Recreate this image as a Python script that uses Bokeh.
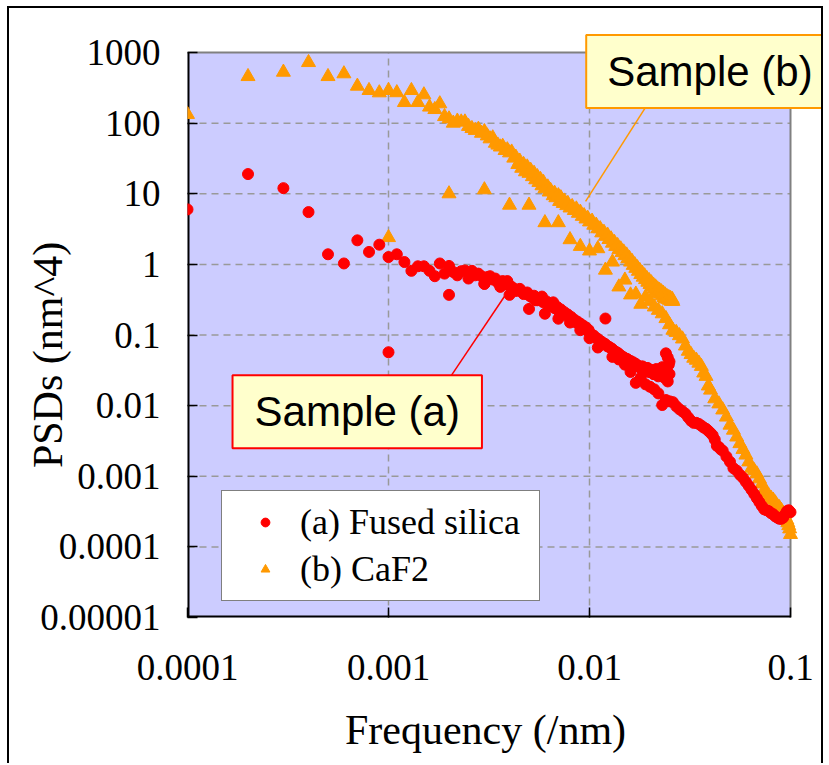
from bokeh.plotting import figure
from bokeh.models import (Range1d, FixedTicker, Label, Legend, LegendItem,
                          CustomJSTickFormatter, ColumnDataSource)
from bokeh.embed import file_html
from bokeh.resources import INLINE

# ---------------- data ----------------
# (a) Fused silica
fs_coarse_x = [0.0001, 0.0002, 0.0003, 0.0004, 0.0005, 0.0006, 0.0007, 0.0008, 0.0009, 0.001]
fs_coarse_y = [6.0, 19, 12, 5.5, 1.39, 1.03, 2.19, 1.5, 1.9, 1.27]

fs_fine_x = [0.0011, 0.0012, 0.0013, 0.0014, 0.0015, 0.0016, 0.0017, 0.0018, 0.0019, 0.0020,
             0.0021, 0.0022, 0.0023, 0.0024, 0.0025, 0.0026, 0.0027, 0.0028, 0.0029, 0.0030,
             0.0031, 0.0032, 0.0033, 0.0034, 0.0035, 0.0036, 0.0037, 0.0038, 0.0039, 0.0040,
             0.0041, 0.0042, 0.0043, 0.0044, 0.0045, 0.0046, 0.0047, 0.0048, 0.0049, 0.0050,
             0.0051, 0.0052, 0.0053, 0.0054, 0.0055, 0.0056, 0.0057, 0.0058, 0.0059, 0.0060,
             0.0061, 0.0062, 0.0063, 0.0064, 0.0065, 0.0066, 0.0067, 0.0068, 0.0069, 0.0070,
             0.0071, 0.0072, 0.0074, 0.0075, 0.0077, 0.0078, 0.0080, 0.0081, 0.0083, 0.0084,
             0.0086, 0.0087, 0.0089, 0.0090, 0.0092, 0.0093, 0.0095, 0.0096, 0.0098, 0.0099,
             0.0100, 0.0103, 0.0105, 0.0108, 0.0110, 0.0113,
             0.0115, 0.0118, 0.0120, 0.0123, 0.0125, 0.0128, 0.0130, 0.0133, 0.0135, 0.0138,
             0.0140, 0.0143, 0.0145, 0.0148, 0.0150, 0.0153, 0.0155, 0.0158, 0.0160, 0.0163,
             0.0165, 0.0168, 0.0170, 0.0173, 0.0175, 0.0178, 0.0180, 0.0183, 0.0185, 0.0188,
             0.0190, 0.0193, 0.0195, 0.0198, 0.0200, 0.0203, 0.0205, 0.0208, 0.0210, 0.0213,
             0.0215, 0.0218, 0.0220, 0.0223, 0.0225, 0.0228, 0.0230, 0.0233, 0.0235, 0.0238,
             0.0240, 0.0243, 0.0245, 0.0248, 0.0250, 0.0240, 0.0245, 0.0250]
fs_fine_y = [1.39, 1.08, 0.81, 0.94, 0.94, 0.81, 0.68, 1.03, 0.74, 0.95,
             0.78, 0.70, 0.80, 0.82, 0.63, 0.81, 0.70, 0.74, 0.68, 0.53,
             0.66, 0.68, 0.61, 0.63, 0.55, 0.48, 0.58, 0.52, 0.58, 0.50,
             0.48, 0.455, 0.42, 0.43, 0.45, 0.41, 0.38, 0.39, 0.40, 0.366,
             0.35, 0.34, 0.36, 0.311, 0.31, 0.33, 0.32, 0.35, 0.29, 0.30,
             0.30, 0.28, 0.26, 0.27, 0.27, 0.29, 0.24, 0.25, 0.25, 0.224,
             0.21, 0.23, 0.20, 0.21, 0.19, 0.195, 0.175, 0.18, 0.16, 0.165,
             0.15, 0.155, 0.14, 0.145, 0.13, 0.136, 0.122, 0.128, 0.115, 0.118,
             0.108, 0.10, 0.098, 0.090, 0.088, 0.082,
             0.080, 0.076, 0.074, 0.069, 0.068, 0.065, 0.063, 0.059, 0.058, 0.056,
             0.054, 0.051, 0.050, 0.048, 0.047, 0.046, 0.045, 0.043, 0.043, 0.041,
             0.041, 0.039, 0.039, 0.037, 0.036, 0.035, 0.034, 0.036, 0.035, 0.032,
             0.032, 0.034, 0.034, 0.030, 0.030, 0.032, 0.031, 0.028, 0.028, 0.030,
             0.033, 0.027, 0.026, 0.029, 0.030, 0.033, 0.035, 0.027, 0.025, 0.030,
             0.034, 0.024, 0.022, 0.038, 0.042, 0.055, 0.048, 0.028]

fs_step_x = [0.001, 0.002, 0.003, 0.004, 0.005, 0.006, 0.007, 0.008, 0.009, 0.010,
             0.011, 0.012, 0.013, 0.014, 0.015, 0.016, 0.017, 0.018, 0.019, 0.020,
             0.021, 0.022, 0.023, 0.024, 0.025, 0.026, 0.027, 0.028, 0.029, 0.030,
             0.031, 0.032, 0.033, 0.034, 0.035, 0.036, 0.037, 0.038, 0.039, 0.040,
             0.041, 0.042, 0.043, 0.044, 0.045, 0.046, 0.048, 0.050, 0.052, 0.054,
             0.056, 0.058, 0.060, 0.062, 0.064, 0.066, 0.068, 0.070, 0.072, 0.074,
             0.076, 0.078, 0.080, 0.082, 0.084, 0.086, 0.088, 0.090, 0.092, 0.094,
             0.096, 0.098, 0.100]
fs_step_y = [0.057, 0.37, 0.53, 0.37, 0.234, 0.20, 0.17, 0.15, 0.117, 0.09,
             0.0665, 0.171, 0.049, 0.045, 0.038, 0.030, 0.021, 0.025, 0.020, 0.0185,
             0.017, 0.0149, 0.0102, 0.012, 0.0115, 0.0112, 0.0098, 0.0089, 0.0083, 0.0077,
             0.0068, 0.0061, 0.0057, 0.0057, 0.0055, 0.0052, 0.0049, 0.0047, 0.0044, 0.0041,
             0.0038, 0.0033, 0.0027, 0.0026, 0.0024, 0.0023, 0.0019, 0.0016, 0.0013, 0.0012,
             0.00105, 0.00095, 0.00083, 0.00073, 0.00064, 0.00056, 0.00049, 0.00043, 0.00038, 0.00034,
             0.00033, 0.00032, 0.00030, 0.00029, 0.00027, 0.00026, 0.00025, 0.00025, 0.00026, 0.00029,
             0.00032, 0.00033, 0.00031]

# (b) CaF2
ca_coarse_x = [0.0001, 0.0002, 0.0003, 0.0004, 0.0005, 0.0006, 0.0007, 0.0008, 0.0009, 0.001]
ca_coarse_y = [133, 457, 527, 722, 457, 500, 334, 290, 269, 290]

ca_fine_x = [0.0011, 0.0012, 0.0013, 0.0014, 0.0015, 0.0016, 0.0017, 0.0018, 0.0019, 0.0020,
             0.0021, 0.0022, 0.0023, 0.0024, 0.0025, 0.0026, 0.0027, 0.0028, 0.0029, 0.0030,
             0.0031, 0.0032, 0.0033, 0.0034, 0.0035, 0.0036, 0.0037, 0.0038, 0.0039, 0.0040,
             0.0041, 0.0042, 0.0043, 0.0044, 0.0045, 0.0046, 0.0047, 0.0048, 0.0049, 0.0050,
             0.0051, 0.0052, 0.0053, 0.0054, 0.0055, 0.0056, 0.0057, 0.0058, 0.0059, 0.0060,
             0.0062, 0.0063, 0.0064, 0.0066, 0.0067, 0.0068, 0.0070, 0.0071, 0.0072, 0.0074,
             0.0075, 0.0077, 0.0078, 0.0080, 0.0082, 0.0084, 0.0086, 0.0088, 0.0090, 0.0092,
             0.0094, 0.0096, 0.0098, 0.0100, 0.0103, 0.0105, 0.0108, 0.0110, 0.0113, 0.0115,
             0.0118, 0.0120, 0.0123, 0.0125, 0.0128, 0.0130, 0.0133, 0.0135, 0.0138, 0.0140,
             0.0143, 0.0145, 0.0148, 0.0150, 0.0153, 0.0155, 0.0158, 0.0160, 0.0163, 0.0165,
             0.0168, 0.0170, 0.0173, 0.0175, 0.0178, 0.0180, 0.0183, 0.0185, 0.0188, 0.0190,
             0.0193, 0.0195, 0.0198, 0.0200, 0.0203, 0.0205, 0.0208, 0.0210, 0.0213, 0.0215,
             0.0218, 0.0220, 0.0223, 0.0225, 0.0228, 0.0230, 0.0233, 0.0235, 0.0238, 0.0240,
             0.0243, 0.0245, 0.0248, 0.0250, 0.0253, 0.0255, 0.0258, 0.0260]
ca_fine_y = [270, 196, 290, 196, 252, 169, 156, 188, 124, 115,
             100, 107, 104, 104, 90, 84, 79, 82, 72, 76,
             66, 60, 62, 52, 49, 46, 47, 41, 42, 38,
             39, 32, 33, 26, 29, 23, 26, 20.5, 24, 19.5,
             21.5, 17.5, 19.5, 15.8, 17.5, 14.5, 16, 13, 14.5, 11.8,
             12.5, 10.6, 11.2, 9.4, 10.2, 8.8, 9.4, 7.8, 8.8, 7.3,
             7.9, 6.8, 7.3, 6.3, 6.6, 5.8, 6.1, 5.3, 5.5, 4.8,
             4.9, 4.4, 4.5, 4.0, 4.1, 3.6, 3.6, 3.2, 3.2, 2.8,
             2.85, 2.5, 2.6, 2.25, 2.3, 2.0, 2.05, 1.8, 1.85, 1.62,
             1.66, 1.47, 1.5, 1.33, 1.36, 1.2, 1.22, 1.08, 1.1, 0.97,
             0.99, 0.88, 0.9, 0.8, 0.82, 0.72, 0.75, 0.66, 0.69, 0.61,
             0.63, 0.56, 0.59, 0.52, 0.55, 0.48, 0.51, 0.45, 0.48, 0.42,
             0.45, 0.40, 0.43, 0.38, 0.41, 0.36, 0.39, 0.34, 0.37, 0.33,
             0.35, 0.32, 0.34, 0.31, 0.33, 0.30, 0.32, 0.30]

ca_step_x = [0.001, 0.002, 0.003, 0.004, 0.005, 0.006, 0.007, 0.008, 0.009, 0.010,
             0.011, 0.012, 0.013, 0.014, 0.015, 0.016, 0.017, 0.018, 0.019, 0.020,
             0.021, 0.022, 0.023, 0.024, 0.025, 0.026, 0.027, 0.028, 0.029, 0.030,
             0.031, 0.032, 0.033, 0.034, 0.035, 0.036, 0.037, 0.038, 0.039, 0.040,
             0.042, 0.044, 0.046, 0.048, 0.050, 0.052, 0.054, 0.056, 0.058, 0.060,
             0.062, 0.064, 0.066, 0.068, 0.070, 0.072, 0.074, 0.076, 0.078, 0.080,
             0.082, 0.084, 0.086, 0.088, 0.090, 0.092, 0.094, 0.096, 0.097, 0.098,
             0.099, 0.100]
ca_step_y = [2.4, 10, 11.4, 6.9, 6.9, 3.9, 3.9, 2.24, 1.8, 1.55,
             1.67, 0.83, 1.08, 0.48, 0.60, 0.37, 0.38, 0.273, 0.346, 0.30,
             0.25, 0.224, 0.20, 0.171, 0.14, 0.117, 0.109, 0.098, 0.088, 0.070,
             0.059, 0.053, 0.047, 0.044, 0.040, 0.036, 0.029, 0.026, 0.019, 0.0166,
             0.0125, 0.0106, 0.0087, 0.0069, 0.0053, 0.0045, 0.0036, 0.0029, 0.0024, 0.0020,
             0.0016, 0.0013, 0.0012, 0.00108, 0.00092, 0.00078, 0.00064, 0.00056, 0.00053, 0.00049,
             0.00046, 0.00042, 0.00038, 0.00036, 0.00033, 0.00030, 0.00027, 0.00024, 0.00022, 0.00020,
             0.00018, 0.00015]

# tick values (labels are the values themselves)
x_ticks = [0.0001, 0.001, 0.01, 0.1]
y_ticks = [0.00001, 0.0001, 0.001, 0.01, 0.1, 1, 10, 100, 1000]

# callouts: box anchor (left edge, vertical middle) and leader line end points
callout_b_text = "Sample (b)"
callout_b_anchor = (0.009630, 538)
callout_b_line_x = [0.0190, 0.00956]
callout_b_line_y = [167, 7.8]
callout_a_text = "Sample (a)"
callout_a_anchor = (0.0001675, 0.00822)
callout_a_line_x = [0.00206, 0.00378]
callout_a_line_y = [0.027, 0.354]

RED = "#FF0000"
ORANGE = "#FF9900"
NB = "\u00a0"

# frame extends past the plot box (right / top) so the callout box can overflow it
p = figure(width=816, height=757, x_axis_type="log", y_axis_type="log",
           x_range=Range1d(1e-4, 0.14931), y_range=Range1d(1e-5, 4198),
           output_backend="svg", toolbar_location=None,
           min_border_left=178, min_border_right=0, min_border_top=0, min_border_bottom=148)
p.margin = (6, 0, 0, 7)
p.styles = {"border-left": "2px solid black", "border-top": "2px solid black",
            "border-right": "2px solid black"}

p.background_fill_color = "white"
p.border_fill_color = "white"
p.outline_line_color = None
p.xgrid.visible = False
p.ygrid.visible = False

for ax, ticks in ((p.xaxis, x_ticks), (p.yaxis, y_ticks)):
    ax.ticker = FixedTicker(ticks=ticks, minor_ticks=[])
    ax.formatter = CustomJSTickFormatter(code="return tick.toString()")
    ax.major_tick_in = 10
    ax.major_tick_out = 0
    ax.minor_tick_in = 0
    ax.minor_tick_out = 0
    ax.axis_line_color = None
    ax.major_tick_line_color = "black"
    ax.major_tick_line_width = 1.5
    ax.major_label_text_font = "Liberation Serif"
    ax.major_label_text_font_size = "37px"
    ax.major_label_text_color = "black"
    ax.axis_label_text_font = "Liberation Serif"
    ax.axis_label_text_font_size = "42px"
    ax.axis_label_text_font_style = "normal"
    ax.axis_label_text_color = "black"

p.xaxis.axis_label = "Frequency (/nm)" + NB * 4
p.yaxis.axis_label = "PSDs (nm^4)" + NB * 8
p.xaxis.major_label_standoff = 37
p.yaxis.major_label_standoff = 27
p.xaxis.axis_label_standoff = 24
p.yaxis.axis_label_standoff = -34

x0, x1 = x_ticks[0], x_ticks[-1]
y0, y1 = y_ticks[0], y_ticks[-1]

# plot box
p.quad(left=[x0], right=[x1], bottom=[y0], top=[y1], fill_color="#CCCCFF", line_color=None)
# dashed grid
gx = x_ticks[1:-1]
p.segment(x0=gx, x1=gx, y0=[y0] * len(gx), y1=[y1] * len(gx),
          line_color="#999999", line_dash="7 5", line_width=1.5)
gy = y_ticks[1:-1]
p.segment(x0=[x0] * len(gy), x1=[x1] * len(gy), y0=gy, y1=gy,
          line_color="#999999", line_dash="7 5", line_width=1.5)
# box border: grey top/right, black left/bottom
p.line([x0, x1, x1], [y1, y1, y0], line_color="#808080", line_width=2)
p.line([x0, x0, x1], [y1, y0, y0], line_color="black", line_width=4)

fs_src = ColumnDataSource(dict(x=fs_coarse_x + fs_fine_x + fs_step_x,
                               y=fs_coarse_y + fs_fine_y + fs_step_y))
ca_src = ColumnDataSource(dict(x=ca_coarse_x + ca_fine_x + ca_step_x,
                               y=ca_coarse_y + ca_fine_y + ca_step_y))

r_ca = p.scatter("x", "y", source=ca_src, marker="triangle", size=14,
                 fill_color=ORANGE, line_color=ORANGE)
r_fs = p.scatter("x", "y", source=fs_src, marker="circle", size=11,
                 fill_color=RED, line_color=RED)

p.line(callout_b_line_x, callout_b_line_y, line_color=ORANGE, line_width=1.5)
p.line(callout_a_line_x, callout_a_line_y, line_color=RED, line_width=1.5)

lab_b = Label(x=callout_b_anchor[0], y=callout_b_anchor[1], text=callout_b_text,
              text_font="Liberation Sans", text_font_size="42px", text_color="black",
              text_align="left", text_baseline="middle",
              background_fill_color="#FFFFCC", background_fill_alpha=1,
              border_line_color=ORANGE, border_line_width=2,
              padding=dict(left=21, right=40, top=13, bottom=13))
lab_a = Label(x=callout_a_anchor[0], y=callout_a_anchor[1], text=callout_a_text,
              text_font="Liberation Sans", text_font_size="42px", text_color="black",
              text_align="left", text_baseline="middle",
              background_fill_color="#FFFFCC", background_fill_alpha=1,
              border_line_color=RED, border_line_width=2,
              padding=dict(left=22, right=22, top=13, bottom=13))
p.add_layout(lab_a)
p.add_layout(lab_b)

legend = Legend(items=[LegendItem(label="(a) Fused silica", renderers=[r_fs]),
                       LegendItem(label="(b) CaF2", renderers=[r_ca])],
                location=(34, 16))
legend.label_text_font = "Liberation Serif"
legend.label_text_font_size = "36px"
legend.label_text_color = "black"
legend.border_line_color = "black"
legend.border_line_width = 1
legend.background_fill_color = "white"
legend.background_fill_alpha = 1
legend.padding = 10
legend.spacing = 5
legend.margin = 0
legend.glyph_width = 66
legend.glyph_height = 22
legend.label_standoff = 2
legend.label_width = 229
legend.label_height = 22
p.add_layout(legend)

open("out.html", "w").write(file_html(p, INLINE))
